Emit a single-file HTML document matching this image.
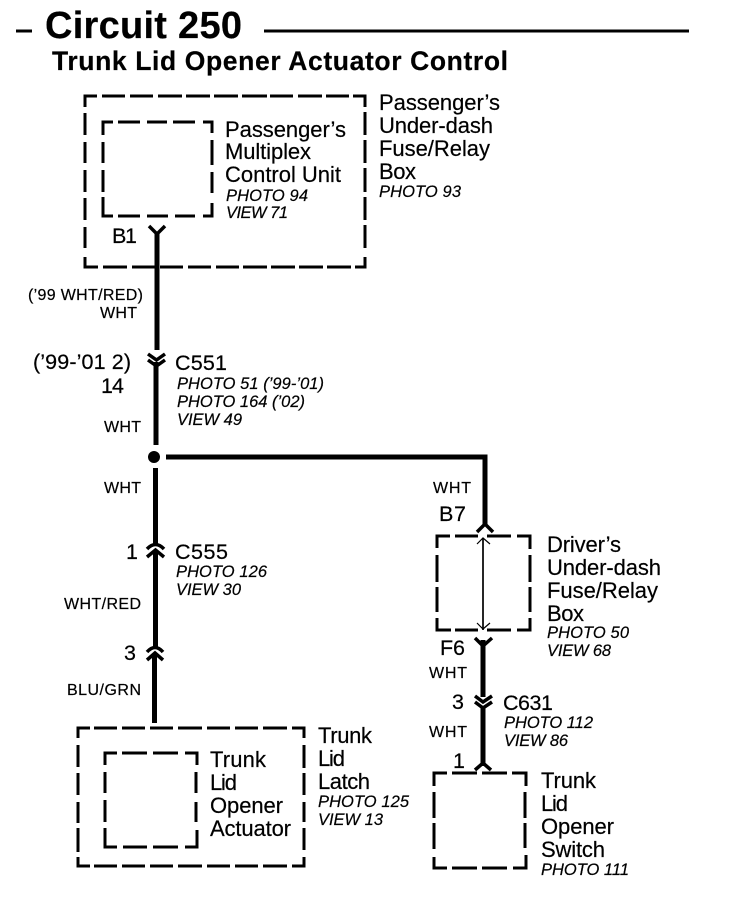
<!DOCTYPE html>
<html><head><meta charset="utf-8"><style>
html,body{margin:0;padding:0;background:#fff}
svg{display:block}
text{font-family:"Liberation Sans",Arial,sans-serif;fill:#000;stroke:#000;stroke-width:.2}
.b{font-size:22px}
.i{font-size:16.5px;font-style:italic}
.s{font-size:16px}
.m{font-size:21.5px}
.d{fill:none;stroke:#000;stroke-width:3}
.w{fill:none;stroke:#000;stroke-width:5}
.c{fill:none;stroke:#000;stroke-width:3.5}
</style></head><body>
<svg width="752" height="898" viewBox="0 0 752 898" xmlns="http://www.w3.org/2000/svg">
<rect width="752" height="898" fill="#fff"/>
<path d="M16 31H32M264 31H689" stroke="#000" stroke-width="3" fill="none"/>
<text x="45" y="38" font-size="38" font-weight="bold" textLength="197">Circuit 250</text>
<text x="52" y="70" font-size="26.5" font-weight="bold" textLength="456">Trunk Lid Opener Actuator Control</text>

<!-- Passenger's outer -->
<path class="d" d="M97 96H85V107M102 96H125M130 96H153M158 96H182M186 96H210M214 96H238M242 96H267M270 96H293M298 96H322M326 96H349M353 96H365V107
M85 113V135M85 142V163M85 170V192M85 198V220M85 227V248M85 257V267H98M103 267H127M132 267H155M160 267H183M188 267H211M216 267H239M243 267H267M271 267H295M299 267H323M327 267H351M355 267H365V257
M365 112V135M365 140V163M365 168V192M365 197V220M365 225V248"/>
<!-- Passenger's inner -->
<path class="d" d="M113 122H103V135M118 122H140M147 122H167M173 122H195M203 122H212V133
M103 142V163M103 170V192M103 197V216H113M118 216H140M147 216H168M175 216H195M203 216H212V203
M212 140V165M212 172V193"/>
<!-- Driver's box -->
<path class="d" d="M450 536H437V548M455 536H478M487 536H511M517 536H530V549
M437 555V582M437 587V612M437 618V630H451M455 630H478M487 630H511M517 630H530V618
M530 555V582M530 587V612"/>
<!-- Latch outer -->
<path class="d" d="M90 728H78V738M94 728H117M122 728H145M150 728H173M178 728H202M207 728H230M235 728H258M263 728H287M292 728H304V738
M78 745V767M78 773V795M78 802V823M78 828V852M78 857V866H90M94 866H117M122 866H145M150 866H173M178 866H202M207 866H230M235 866H258M263 866H287M292 866H304V857
M304 745V768M304 773V795M304 802V822M304 828V850"/>
<!-- Latch inner -->
<path class="d" d="M117 753H105V765M122 753H147M153 753H178M185 753H197V765
M105 772V793M105 800V822M105 828V847H117M123 847H147M153 847H178M185 847H197V830
M196 772V793M196 802V822"/>
<!-- Switch box -->
<path class="d" d="M447 773H434V786M452 773H477M482 773H507M512 773H526V786
M434 792V818M434 823V849M434 857V868H447M452 868H477M482 868H507M513 868H526V855
M525 792V818M525 823V848"/>

<!-- Wires -->
<path class="w" d="M157 232V350"/>
<path class="w" d="M156 362V445"/>
<circle cx="154" cy="457" r="6"/>
<path class="w" d="M155.5 468V544"/>
<path class="w" d="M155.5 552V647"/>
<path class="w" d="M154.5 655V723"/>
<path d="M166 457H485V524" fill="none" stroke="#000" stroke-width="5"/>
<path class="w" d="M483 640V697"/>
<path class="w" d="M483 706V766"/>
<path d="M483 538V630" stroke="#000" stroke-width="1.7" fill="none"/>
<path d="M477 544L483 538L490 544M477 623L483 629L490 623" stroke="#000" stroke-width="1.2" fill="none"/>

<!-- Connectors -->
<path class="c" d="M149 226L157 234L165 226"/>
<path class="c" d="M148 354L156.5 360L165 354M148 360L156.5 366L165 360"/>
<path class="c" d="M147 549Q155.5 540 164 549M147 557L155.5 550L164 557"/>
<path class="c" d="M147 652Q155 643 163 652M147 660L155 653L163 660"/>
<path class="c" d="M477 532L485 524L493 532"/>
<path class="c" d="M475 638L483 646L492 638"/>
<path class="c" d="M475 696L483 702L492 696M475 702L483 708L492 702"/>
<path class="c" d="M475 770L483 763L491 770"/>

<!-- Passenger's -->
<text class="b" x="225" y="137" textLength="121">Passenger’s</text>
<text class="b" x="225" y="159" textLength="86">Multiplex</text>
<text class="b" x="225" y="182" textLength="116">Control Unit</text>
<text class="i" x="226" y="201" textLength="82">PHOTO 94</text>
<text class="i" x="226" y="218" textLength="62">VIEW 71</text>
<text class="m" x="112" y="243" textLength="25">B1</text>

<text class="b" x="379" y="110" textLength="121">Passenger’s</text>
<text class="b" x="379" y="133" textLength="114">Under-dash</text>
<text class="b" x="379" y="156" textLength="111">Fuse/Relay</text>
<text class="b" x="379" y="179" textLength="37">Box</text>
<text class="i" x="379" y="197" textLength="82">PHOTO 93</text>

<!-- Left labels -->
<text class="s" x="28" y="300" textLength="115">(’99 WHT/RED)</text>
<text class="s" x="100" y="318" textLength="37">WHT</text>
<text class="m" x="33" y="369" textLength="98">(’99-’01 2)</text>
<text class="m" x="101" y="393" textLength="23">14</text>
<text class="s" x="104" y="432" textLength="37">WHT</text>
<text class="s" x="104" y="493" textLength="37">WHT</text>
<text class="m" x="126" y="559">1</text>
<text class="s" x="64" y="609" textLength="77">WHT/RED</text>
<text class="m" x="124" y="660">3</text>
<text class="s" x="67" y="695" textLength="74">BLU/GRN</text>

<!-- C551 -->
<text class="m" x="175" y="370" textLength="52">C551</text>
<text class="i" x="177" y="389" textLength="147">PHOTO 51 (’99-’01)</text>
<text class="i" x="177" y="407" textLength="128">PHOTO 164 (’02)</text>
<text class="i" x="177" y="425" textLength="65">VIEW 49</text>

<!-- C555 -->
<text class="m" x="175" y="559" textLength="53">C555</text>
<text class="i" x="176" y="577" textLength="91">PHOTO 126</text>
<text class="i" x="176" y="595" textLength="65">VIEW 30</text>

<!-- Right labels -->
<text class="s" x="433" y="493" textLength="38">WHT</text>
<text class="m" x="439" y="521" textLength="27">B7</text>
<text class="b" x="547" y="552" textLength="74">Driver’s</text>
<text class="b" x="547" y="575" textLength="114">Under-dash</text>
<text class="b" x="547" y="598" textLength="111">Fuse/Relay</text>
<text class="b" x="547" y="621" textLength="37">Box</text>
<text class="i" x="547" y="638" textLength="82">PHOTO 50</text>
<text class="i" x="547" y="656" textLength="64">VIEW 68</text>
<text class="m" x="440" y="655" textLength="25">F6</text>
<text class="s" x="429" y="678" textLength="38">WHT</text>
<text class="m" x="452" y="709">3</text>
<text class="m" x="503" y="710" textLength="50">C631</text>
<text class="i" x="504" y="728" textLength="89">PHOTO 112</text>
<text class="i" x="504" y="746" textLength="64">VIEW 86</text>
<text class="s" x="429" y="737" textLength="38">WHT</text>
<text class="m" x="453" y="768">1</text>

<!-- Latch -->
<text class="b" x="318" y="743" textLength="54">Trunk</text>
<text class="b" x="318" y="766" textLength="27">Lid</text>
<text class="b" x="318" y="789" textLength="52">Latch</text>
<text class="i" x="318" y="807" textLength="91">PHOTO 125</text>
<text class="i" x="318" y="825" textLength="65">VIEW 13</text>
<text class="b" x="210" y="767" textLength="56">Trunk</text>
<text class="b" x="210" y="790" textLength="27">Lid</text>
<text class="b" x="210" y="813" textLength="73">Opener</text>
<text class="b" x="210" y="836" textLength="81">Actuator</text>

<!-- Switch -->
<text class="b" x="541" y="788" textLength="55">Trunk</text>
<text class="b" x="541" y="811" textLength="27">Lid</text>
<text class="b" x="541" y="834" textLength="73">Opener</text>
<text class="b" x="541" y="857" textLength="64">Switch</text>
<text class="i" x="541" y="875" textLength="88">PHOTO 111</text>
</svg>
</body></html>
